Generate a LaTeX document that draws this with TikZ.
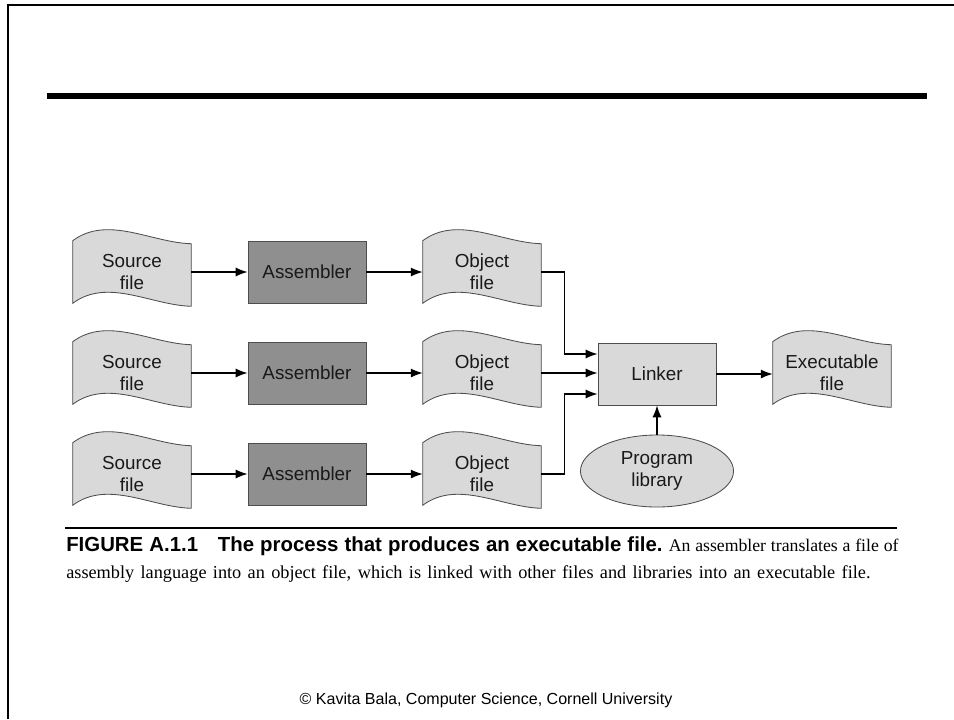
\documentclass[tikz,border=0pt]{standalone}
\usepackage{fontspec}
\setmainfont{Liberation Sans}
\newfontfamily\capserif{Liberation Serif}
\usetikzlibrary{calc, shapes.geometric, arrows.meta, backgrounds}

\definecolor{filegray}{HTML}{D9D9D9}
\definecolor{asmgray}{HTML}{8F8F8F}
\definecolor{edgegray}{HTML}{4D4D4D}

% wavy sheet drawn behind a file node
\newcommand{\sheetoutline}[1]{%
  \path[fill=filegray, draw=edgegray, line width=0.6pt] (#1.north west) .. controls +(35,-26) and +(-40,-1) .. ($(#1.north east)+(0,3)$) -- ($(#1.south east)+(0,3)$) .. controls +(-40,-1) and +(35,-26) .. (#1.south west) -- cycle;}

\begin{document}
\begin{tikzpicture}[x=0.025cm, y=-0.025cm,
    lbl/.style={font=\fontsize{13.4}{16}\selectfont, text=black!90},
    filenode/.style={lbl, minimum width=2.95cm, minimum height=1.55cm, inner sep=0pt, align=center},
    asmbox/.style={filenode, fill=asmgray, draw=edgegray, line width=0.6pt},
    linkbox/.style={filenode, fill=filegray, draw=edgegray, line width=0.6pt},
    libnode/.style={lbl, ellipse, fill=filegray, draw=edgegray, line width=0.6pt, minimum width=3.825cm, minimum height=1.8cm, inner sep=0pt, align=center},
    flow/.style={-{Latex[length=8.5pt,width=6.5pt]}, line width=0.9pt}]

    \useasboundingbox (0,0) rectangle (954,719);

    % slide frame and title rule
    \draw[line width=1.5pt] (8,719) -- (8,5) -- (954,5);
    \fill (47,93) rectangle (927,99);

    \node[filenode] (src1) at (132,272) {Source\\file};
    \node[filenode] (src2) at (132,373) {Source\\file};
    \node[filenode] (src3) at (132,474) {Source\\file};

    \node[asmbox] (asm1) at (307,272) {Assembler};
    \node[asmbox] (asm2) at (307,373) {Assembler};
    \node[asmbox] (asm3) at (307,474) {Assembler};

    \node[filenode] (obj1) at (482,272) {Object\\file};
    \node[filenode] (obj2) at (482,373) {Object\\file};
    \node[filenode] (obj3) at (482,474) {Object\\file};

    \node[linkbox] (link) at (657,374) {Linker};
    \node[filenode] (exe) at (832,373) {Executable\\file};
    \node[libnode] (lib) at (657,471) {Program\\library};

    \begin{scope}[on background layer]
        \foreach \f in {src1,src2,src3,obj1,obj2,obj3,exe} {\sheetoutline{\f}}
    \end{scope}

    \draw[flow] (src1) -- (asm1);
    \draw[flow] (src2) -- (asm2);
    \draw[flow] (src3) -- (asm3);
    \draw[flow] (asm1) -- (obj1);
    \draw[flow] (asm2) -- (obj2);
    \draw[flow] (asm3) -- (obj3);

    \draw[flow] (obj1.east) -- ++(23,0) |- ($(link.west)+(0,-20)$);
    \draw[flow] (obj2.east) -- (obj2.east -| link.west);
    \draw[flow] (obj3.east) -- ++(23,0) |- ($(link.west)+(0,20)$);
    \draw[flow] (link.east) -- (link.east -| exe.west);
    \draw[flow] (lib) -- (link);

    % caption
    \draw[line width=1.4pt] (65,528) -- (897,528);
    \node[anchor=base west, inner sep=0pt] (capA) at (66,551) {\makebox[20.8cm][s]{{\fontsize{14.5}{17}\selectfont\bfseries FIGURE A.1.1\hspace{14pt}The process that produces an executable file.} \capserif\fontsize{12.6}{15}\selectfont An assembler translates a file of}};
    \node[anchor=base west, inner sep=0pt] (capB) at (66,578) {\makebox[20.1cm][s]{\capserif\fontsize{13}{15}\selectfont assembly language into an object file, which is linked with other files and libraries into an executable file.}};

    \node (credit) at (486,700) {\fontsize{11.4}{13}\selectfont © Kavita Bala, Computer Science, Cornell University};

\end{tikzpicture}
\end{document}
